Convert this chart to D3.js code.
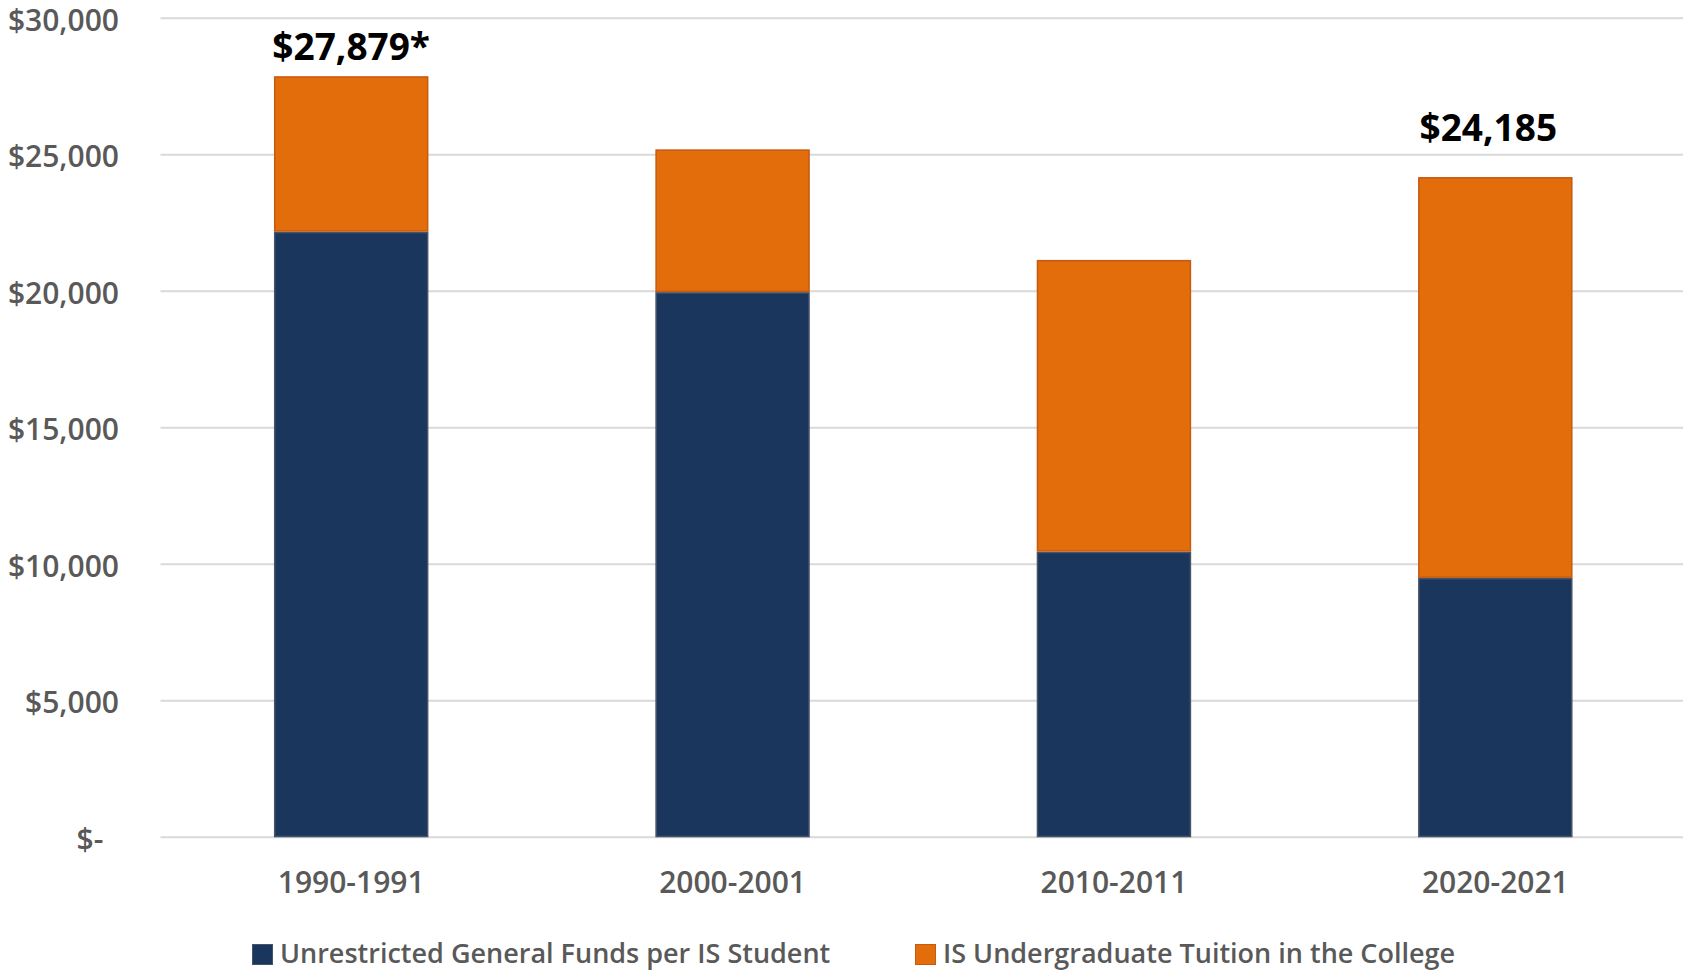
<!DOCTYPE html>
<html>
<head>
<meta charset="utf-8">
<script src="https://cdn.jsdelivr.net/npm/d3@7"></script>
<style>
  html, body { margin: 0; padding: 0; background: #fff; }
  svg { display: block; font-family: "Open Sans", "Noto Sans", sans-serif; }
</style>
</head>
<body>
<svg id="chart" width="1683" height="972"></svg>
<script>
// academic years
const years = ['1990-1991', '2000-2001', '2010-2011', '2020-2021'];
// unrestricted general funds per IS student (bottom segment)
const generalFunds = [22180, 19970, 10460, 9500];
// IS undergraduate tuition in the college (top segment)
const tuition = [5699, 5230, 10690, 14685];
// totals written above two of the bars
const totalLabels = ['$27,879*', null, null, '$24,185'];
const yTicks = [0, 5000, 10000, 15000, 20000, 25000, 30000];
const seriesNames = ['Unrestricted General Funds per IS Student', 'IS Undergraduate Tuition in the College'];

const colors = ['#1b365d', '#e36c0b'];
const strokes = ['#46546a', '#c55a11'];

const svg = d3.select('#chart');
const W = +svg.attr('width');

const x = d3.scaleBand().domain(years).range([160.5, 1686]).paddingInner(0.595).paddingOuter(0.2975);
const y = d3.scaleLinear().domain([0, 30000]).range([837.3, 18.3]);

// gridlines
svg.append('g').selectAll('line')
  .data(yTicks)
  .enter().append('line')
  .attr('x1', 160.5).attr('x2', W)
  .attr('y1', d => y(d)).attr('y2', d => y(d))
  .attr('stroke', '#d9d9d9')
  .attr('stroke-width', 2);

// y axis labels
const fmt = d => d === 0 ? '$-\u00a0\u00a0' : '$' + d3.format(',')(d);
const yAxis = d3.axisLeft(y).tickValues(yTicks).tickFormat(fmt).tickSize(0).tickPadding(0);
const gy = svg.append('g').attr('transform', 'translate(119,0)').call(yAxis);
gy.select('.domain').remove();
gy.selectAll('text')
  .attr('fill', '#595959')
  .attr('font-size', 30)
  .attr('font-weight', 600)
  .attr('font-family', '"Open Sans", sans-serif')
  .attr('dy', '0.4em');

// stacked bars
const rows = years.map((yr, i) => ({ year: yr, funds: generalFunds[i], tuition: tuition[i] }));
const stack = d3.stack().keys(['funds', 'tuition'])(rows);

svg.append('g').selectAll('g')
  .data(stack)
  .enter().append('g')
  .each(function (layer, li) {
    d3.select(this).selectAll('rect')
      .data(layer)
      .enter().append('rect')
      .attr('x', d => x(d.data.year) + 0.75)
      .attr('width', x.bandwidth() - 1.5)
      .attr('y', d => y(d[1]) + 0.75)
      .attr('height', d => y(d[0]) - y(d[1]) - 1.5)
      .attr('fill', colors[li])
      .attr('stroke', strokes[li])
      .attr('stroke-width', 1.5);
  });

// x axis labels
const xAxis = d3.axisBottom(x).tickSize(0).tickPadding(0);
const gx = svg.append('g').attr('transform', 'translate(0,893)').call(xAxis);
gx.select('.domain').remove();
gx.selectAll('text')
  .attr('fill', '#595959')
  .attr('font-size', 30)
  .attr('font-weight', 600)
  .attr('font-family', '"Open Sans", sans-serif')
  .attr('dy', 0);

// total labels
const labelLift = [16, 0, 0, 36];
const labelShift = [0, 0, 0, -7];
svg.append('g').selectAll('text')
  .data(rows.map((r, i) => ({ ...r, i })).filter(d => totalLabels[d.i]))
  .enter().append('text')
  .attr('x', d => x(d.year) + x.bandwidth() / 2 + labelShift[d.i])
  .attr('y', d => y(d.funds + d.tuition) - labelLift[d.i])
  .attr('text-anchor', 'middle')
  .attr('font-size', 37)
  .attr('font-weight', 700)
  .attr('fill', '#000')
  .text(d => totalLabels[d.i]);

// legend
const legendX = [252, 915];
const legend = svg.append('g').selectAll('g')
  .data(seriesNames)
  .enter().append('g')
  .attr('transform', (d, i) => `translate(${legendX[i]},944)`);
legend.append('rect')
  .attr('width', 20).attr('height', 20)
  .attr('x', 0.5).attr('y', 0.5)
  .attr('fill', (d, i) => colors[i])
  .attr('stroke', (d, i) => strokes[i])
  .attr('stroke-width', 1);
legend.append('text')
  .attr('x', 28)
  .attr('y', 19)
  .attr('font-size', 27)
  .attr('font-weight', 600)
  .attr('fill', '#595959')
  .text(d => d);
</script>
</body>
</html>
